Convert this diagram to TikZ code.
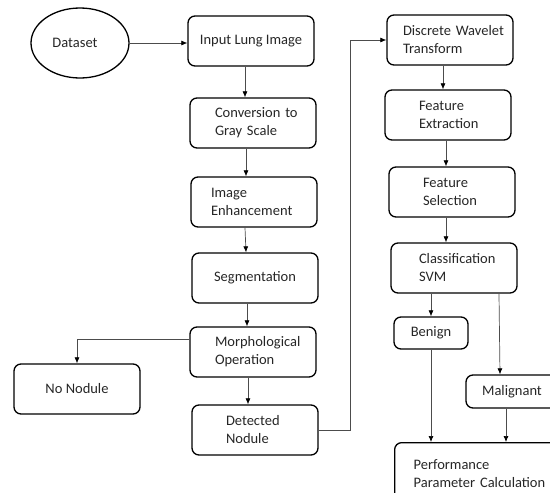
\documentclass[tikz,border=0pt]{standalone}
\usepackage{fontspec}
\setmainfont{Carlito}
\usetikzlibrary{shapes.geometric,arrows.meta}

\begin{document}
\begin{tikzpicture}[x=1pt,y=-1pt,>={Latex[length=6pt,width=5pt,color=black]},
      font=\fontsize{14.5}{18}\selectfont,
      proc node/.style={draw,line width=1.3pt,rounded corners=7pt,minimum width=126pt,minimum height=50pt,inner sep=2pt,text=black!85},
      pad/.style 2 args={align=left,inner xsep=#1,text width=#2},
      data node/.style={ellipse,draw,line width=1.3pt,minimum width=98pt,minimum height=70pt,text=black!85},
      link/.style={->,draw=black!70,line width=0.7pt}]
      \clip (0,0) rectangle (550,493);

      \node[data node] (data) at (80,43) {Dataset\hspace*{10pt}};
      \node[proc node] (inp) at (251,41) {Input Lung Image};
      \node[proc node,pad={25pt}{76pt}] (conv) at (253,123) {Conversion~to\\Gray Scale};
      \node[proc node,pad={20pt}{86pt}] (enh) at (254,202) {Image\\Enhancement};
      \node[proc node] (seg) at (255,278) {Segmentation};
      \node[proc node,pad={25pt}{76pt}] (morph) at (253,352) {Morphological\\Operation};
      \node[proc node] (nonod) at (77,389) {No Nodule};
      \node[proc node,pad={34pt}{58pt}] (det) at (255,430) {Detected\\Nodule};

      \node[proc node,pad={16pt}{94pt}] (dwt) at (450,40) {Discrete~Wavelet\\Transform};
      \node[proc node,pad={34pt}{58pt}] (fext) at (448,115) {Feature\\Extraction};
      \node[proc node,pad={34pt}{58pt}] (fsel) at (452,192) {Feature\\Selection};
      \node[proc node,pad={28pt}{70pt}] (cls) at (454,268) {Classification\\SVM};
      \node[proc node,minimum width=74pt,minimum height=32pt] (ben) at (431,333) {Benign};
      \node[proc node,minimum width=92pt,minimum height=33pt] (mal) at (512,391.5) {Malignant};
      \node[proc node,pad={19pt}{150pt},anchor=north west,minimum height=62pt] (perf) at (394,442) {Performance\\Parameter Calculation};

      % left column
      \draw[link] (data.east) -- (data.east -| inp.west);
      \draw[link] ([xshift=-6pt]inp.south) -- ([xshift=-8pt]conv.north);
      \draw[link] ([xshift=-7pt]conv.south) -- ([xshift=-8pt]enh.north);
      \draw[link] ([xshift=-9pt]enh.south) -- ([xshift=-9pt]seg.north);
      \draw[link] ([xshift=-8pt]seg.south) -- ([xshift=-6pt]morph.north);
      \draw[link] ([xshift=-5pt]morph.south) -- ([xshift=-7pt]det.north);
      \draw[link] ([yshift=13pt]morph.west) -| (nonod.north);
      \draw[link] (det.east) -- ++(32,0) |- (dwt.west);

      % right column
      \draw[link] ([xshift=-7pt]dwt.south) -- ([xshift=-5pt]fext.north);
      \draw[link] ([xshift=-2pt]fext.south) -- ([xshift=-6pt]fsel.north);
      \draw[link] ([xshift=-6pt]fsel.south) -- ([xshift=-8pt]cls.north);
      \draw[link] (ben.north |- cls.south) -- (ben.north);
      \draw[link] ([xshift=-13pt]mal.north |- cls.south) -- ([xshift=-12pt]mal.north);
      \draw[link] (ben.south) -- (ben.south |- perf.north);
      \draw[link] ([xshift=-6pt]mal.south) -- ([xshift=-6pt]mal.south |- perf.north);
\end{tikzpicture}
\end{document}
